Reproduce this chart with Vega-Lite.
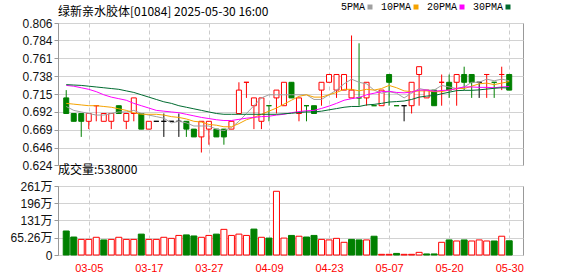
{
  "$schema": "https://vega.github.io/schema/vega-lite/v6.json",
  "background": "white",
  "padding": {"left": 9, "top": 2, "right": 5, "bottom": 2},
  "config": {
    "view": {"stroke": "#999999", "strokeWidth": 1},
    "font": "Liberation Sans",
    "axisY": {"labelFont": "Liberation Sans, Noto Sans CJK SC", "labelFontSize": 12, "labelColor": "#111111", "tickColor": "#999999", "tickSize": 4, "domainColor": "#999999", "gridColor": "#d2d2d2", "labelPadding": 2, "labelOverlap": false, "labelFlush": false},
    "legend": {
      "orient": "none", "legendX": 307, "legendY": -21, "direction": "horizontal",
      "symbolType": "square", "symbolSize": 25, "symbolStrokeWidth": 0,
      "labelFont": "Liberation Mono", "labelFontSize": 10, "labelColor": "#000000",
      "labelAlign": "right", "labelOffset": -10, "columnPadding": 7
    }
  },
  "datasets": {
    "k": [
      {"i":0,"d":"02-28","o":0.71,"h":0.72,"l":0.69,"c":0.69,"k":"down","vd":"down","v":90.8,"m5":0.699,"m10":0.703,"m20":0.726,"m30":0.727},
      {"i":1,"d":"03-03","o":0.69,"h":0.69,"l":0.68,"c":0.68,"k":"down","vd":"down","v":68,"m5":0.694,"m10":0.702,"m20":0.725,"m30":0.7265},
      {"i":2,"d":"03-04","o":0.69,"h":0.69,"l":0.66,"c":0.68,"k":"down","vd":"up","v":59,"m5":0.692,"m10":0.701,"m20":0.723,"m30":0.726},
      {"i":3,"d":"03-05","o":0.68,"h":0.69,"l":0.67,"c":0.69,"k":"up","vd":"up","v":59,"m5":0.690,"m10":0.700,"m20":0.721,"m30":0.725},
      {"i":4,"d":"03-06","o":0.70,"h":0.70,"l":0.68,"c":0.70,"k":"up","vd":"up","v":67,"m5":0.688,"m10":0.700,"m20":0.718,"m30":0.724},
      {"i":5,"d":"03-07","o":0.68,"h":0.69,"l":0.68,"c":0.69,"k":"up","vd":"down","v":57,"m5":0.688,"m10":0.699,"m20":0.714,"m30":0.723},
      {"i":6,"d":"03-10","o":0.68,"h":0.69,"l":0.67,"c":0.69,"k":"up","vd":"up","v":59,"m5":0.690,"m10":0.698,"m20":0.711,"m30":0.722},
      {"i":7,"d":"03-11","o":0.70,"h":0.70,"l":0.69,"c":0.69,"k":"down","vd":"up","v":67,"m5":0.692,"m10":0.696,"m20":0.709,"m30":0.721},
      {"i":8,"d":"03-12","o":0.68,"h":0.69,"l":0.67,"c":0.69,"k":"up","vd":"up","v":59,"m5":0.692,"m10":0.694,"m20":0.707,"m30":0.719},
      {"i":9,"d":"03-13","o":0.69,"h":0.71,"l":0.68,"c":0.71,"k":"up","vd":"up","v":59,"m5":0.694,"m10":0.691,"m20":0.703,"m30":0.717},
      {"i":10,"d":"03-14","o":0.69,"h":0.69,"l":0.67,"c":0.67,"k":"down","vd":"down","v":79,"m5":0.690,"m10":0.689,"m20":0.700,"m30":0.714},
      {"i":11,"d":"03-17","o":0.67,"h":0.68,"l":0.67,"c":0.68,"k":"up","vd":"up","v":59,"m5":0.688,"m10":0.689,"m20":0.697,"m30":0.711},
      {"i":12,"d":"03-18","o":0.68,"h":0.68,"l":0.68,"c":0.68,"k":"flat","vd":"up","v":59,"m5":0.686,"m10":0.689,"m20":0.694,"m30":0.708},
      {"i":13,"d":"03-19","o":0.68,"h":0.69,"l":0.66,"c":0.68,"k":"flat","vd":"up","v":67,"m5":0.684,"m10":0.688,"m20":0.693,"m30":0.705},
      {"i":14,"d":"03-20","o":0.68,"h":0.68,"l":0.68,"c":0.68,"k":"flat","vd":"up","v":63,"m5":0.678,"m10":0.686,"m20":0.692,"m30":0.703},
      {"i":15,"d":"03-21","o":0.68,"h":0.69,"l":0.66,"c":0.68,"k":"flat","vd":"up","v":74,"m5":0.680,"m10":0.685,"m20":0.691,"m30":0.700},
      {"i":16,"d":"03-24","o":0.68,"h":0.68,"l":0.66,"c":0.67,"k":"down","vd":"down","v":76,"m5":0.678,"m10":0.683,"m20":0.689,"m30":0.698},
      {"i":17,"d":"03-25","o":0.67,"h":0.67,"l":0.66,"c":0.66,"k":"down","vd":"down","v":72,"m5":0.674,"m10":0.680,"m20":0.687,"m30":0.696},
      {"i":18,"d":"03-26","o":0.66,"h":0.68,"l":0.64,"c":0.68,"k":"up","vd":"up","v":67,"m5":0.674,"m10":0.679,"m20":0.685,"m30":0.694},
      {"i":19,"d":"03-27","o":0.67,"h":0.68,"l":0.65,"c":0.68,"k":"up","vd":"up","v":74,"m5":0.674,"m10":0.676,"m20":0.6835,"m30":0.692},
      {"i":20,"d":"03-28","o":0.67,"h":0.67,"l":0.66,"c":0.66,"k":"down","vd":"down","v":79,"m5":0.670,"m10":0.675,"m20":0.682,"m30":0.690},
      {"i":21,"d":"03-31","o":0.67,"h":0.67,"l":0.65,"c":0.66,"k":"down","vd":"up","v":97,"m5":0.668,"m10":0.673,"m20":0.681,"m30":0.689},
      {"i":22,"d":"04-01","o":0.67,"h":0.68,"l":0.67,"c":0.68,"k":"up","vd":"up","v":74,"m5":0.672,"m10":0.673,"m20":0.681,"m30":0.689},
      {"i":23,"d":"04-02","o":0.69,"h":0.73,"l":0.69,"c":0.72,"k":"up","vd":"up","v":79,"m5":0.680,"m10":0.677,"m20":0.6825,"m30":0.689},
      {"i":24,"d":"04-03","o":0.73,"h":0.73,"l":0.71,"c":0.73,"k":"up","vd":"up","v":74,"m5":0.690,"m10":0.682,"m20":0.684,"m30":0.689},
      {"i":25,"d":"04-07","o":0.70,"h":0.71,"l":0.67,"c":0.71,"k":"up","vd":"down","v":98,"m5":0.700,"m10":0.685,"m20":0.685,"m30":0.689},
      {"i":26,"d":"04-08","o":0.68,"h":0.71,"l":0.67,"c":0.71,"k":"up","vd":"up","v":67,"m5":0.710,"m10":0.689,"m20":0.686,"m30":0.689},
      {"i":27,"d":"04-09","o":0.70,"h":0.70,"l":0.68,"c":0.70,"k":"down","vd":"down","v":64,"m5":0.714,"m10":0.693,"m20":0.6865,"m30":0.689},
      {"i":28,"d":"04-10","o":0.71,"h":0.72,"l":0.69,"c":0.72,"k":"up","vd":"up","v":241,"m5":0.714,"m10":0.697,"m20":0.688,"m30":0.689},
      {"i":29,"d":"04-11","o":0.70,"h":0.73,"l":0.70,"c":0.73,"k":"up","vd":"up","v":64,"m5":0.714,"m10":0.702,"m20":0.689,"m30":0.6897},
      {"i":30,"d":"04-14","o":0.73,"h":0.73,"l":0.71,"c":0.71,"k":"down","vd":"down","v":74,"m5":0.714,"m10":0.707,"m20":0.691,"m30":0.6903},
      {"i":31,"d":"04-15","o":0.69,"h":0.71,"l":0.68,"c":0.71,"k":"up","vd":"up","v":71,"m5":0.714,"m10":0.712,"m20":0.6925,"m30":0.6913},
      {"i":32,"d":"04-16","o":0.70,"h":0.70,"l":0.68,"c":0.70,"k":"down","vd":"down","v":68,"m5":0.714,"m10":0.714,"m20":0.6935,"m30":0.692},
      {"i":33,"d":"04-17","o":0.70,"h":0.70,"l":0.69,"c":0.69,"k":"down","vd":"down","v":74,"m5":0.708,"m10":0.711,"m20":0.694,"m30":0.692},
      {"i":34,"d":"04-22","o":0.72,"h":0.73,"l":0.70,"c":0.73,"k":"up","vd":"up","v":59,"m5":0.708,"m10":0.711,"m20":0.6965,"m30":0.693},
      {"i":35,"d":"04-23","o":0.73,"h":0.74,"l":0.73,"c":0.74,"k":"up","vd":"up","v":57,"m5":0.714,"m10":0.714,"m20":0.6995,"m30":0.6947},
      {"i":36,"d":"04-24","o":0.72,"h":0.74,"l":0.71,"c":0.74,"k":"up","vd":"up","v":63,"m5":0.720,"m10":0.717,"m20":0.703,"m30":0.6963},
      {"i":37,"d":"04-25","o":0.72,"h":0.74,"l":0.72,"c":0.74,"k":"up","vd":"up","v":48,"m5":0.728,"m10":0.721,"m20":0.707,"m30":0.698},
      {"i":38,"d":"04-28","o":0.71,"h":0.79,"l":0.71,"c":0.72,"k":"up","vd":"down","v":59,"m5":0.734,"m10":0.721,"m20":0.709,"m30":0.699},
      {"i":39,"d":"04-29","o":0.71,"h":0.78,"l":0.70,"c":0.71,"k":"down","vd":"down","v":57,"m5":0.730,"m10":0.719,"m20":0.7105,"m30":0.699},
      {"i":40,"d":"04-30","o":0.71,"h":0.73,"l":0.70,"c":0.73,"k":"up","vd":"up","v":57,"m5":0.728,"m10":0.721,"m20":0.714,"m30":0.701},
      {"i":41,"d":"05-02","o":0.70,"h":0.70,"l":0.70,"c":0.70,"k":"down","vd":"down","v":71,"m5":0.720,"m10":0.720,"m20":0.716,"m30":0.7017},
      {"i":42,"d":"05-06","o":0.70,"h":0.72,"l":0.70,"c":0.72,"k":"up","vd":"up","v":2.5,"m5":0.716,"m10":0.722,"m20":0.718,"m30":0.703},
      {"i":43,"d":"05-07","o":0.74,"h":0.74,"l":0.70,"c":0.73,"k":"down","vd":"up","v":2.5,"m5":0.718,"m10":0.726,"m20":0.7185,"m30":0.7047},
      {"i":44,"d":"05-08","o":0.70,"h":0.70,"l":0.70,"c":0.70,"k":"down","vd":"down","v":6,"m5":0.716,"m10":0.723,"m20":0.717,"m30":0.7053},
      {"i":45,"d":"05-09","o":0.70,"h":0.70,"l":0.68,"c":0.70,"k":"flat","vd":"up","v":2.5,"m5":0.710,"m10":0.719,"m20":0.7165,"m30":0.706},
      {"i":46,"d":"05-12","o":0.70,"h":0.73,"l":0.69,"c":0.73,"k":"up","vd":"up","v":2.5,"m5":0.716,"m10":0.718,"m20":0.7175,"m30":0.708},
      {"i":47,"d":"05-13","o":0.74,"h":0.75,"l":0.70,"c":0.75,"k":"up","vd":"up","v":10,"m5":0.722,"m10":0.719,"m20":0.720,"m30":0.711},
      {"i":48,"d":"05-14","o":0.71,"h":0.72,"l":0.71,"c":0.72,"k":"up","vd":"down","v":4,"m5":0.720,"m10":0.719,"m20":0.720,"m30":0.7123},
      {"i":49,"d":"05-15","o":0.72,"h":0.72,"l":0.70,"c":0.70,"k":"down","vd":"down","v":4,"m5":0.720,"m10":0.718,"m20":0.7185,"m30":0.713},
      {"i":50,"d":"05-16","o":0.73,"h":0.74,"l":0.70,"c":0.73,"k":"up","vd":"up","v":48,"m5":0.726,"m10":0.718,"m20":0.7195,"m30":0.7153},
      {"i":51,"d":"05-20","o":0.73,"h":0.74,"l":0.71,"c":0.72,"k":"down","vd":"down","v":57,"m5":0.724,"m10":0.720,"m20":0.720,"m30":0.7173},
      {"i":52,"d":"05-21","o":0.73,"h":0.74,"l":0.70,"c":0.74,"k":"up","vd":"up","v":53,"m5":0.722,"m10":0.722,"m20":0.722,"m30":0.7193},
      {"i":53,"d":"05-22","o":0.74,"h":0.75,"l":0.72,"c":0.73,"k":"down","vd":"down","v":57,"m5":0.724,"m10":0.722,"m20":0.724,"m30":0.7197},
      {"i":54,"d":"05-23","o":0.74,"h":0.74,"l":0.71,"c":0.73,"k":"down","vd":"up","v":53,"m5":0.730,"m10":0.725,"m20":0.724,"m30":0.7197},
      {"i":55,"d":"05-26","o":0.73,"h":0.73,"l":0.71,"c":0.73,"k":"flat","vd":"up","v":57,"m5":0.730,"m10":0.728,"m20":0.7235,"m30":0.7203},
      {"i":56,"d":"05-27","o":0.74,"h":0.74,"l":0.71,"c":0.74,"k":"up","vd":"up","v":53,"m5":0.734,"m10":0.729,"m20":0.7235,"m30":0.7213},
      {"i":57,"d":"05-28","o":0.73,"h":0.73,"l":0.71,"c":0.73,"k":"down","vd":"down","v":53,"m5":0.732,"m10":0.727,"m20":0.723,"m30":0.7223},
      {"i":58,"d":"05-29","o":0.74,"h":0.75,"l":0.72,"c":0.74,"k":"up","vd":"up","v":71,"m5":0.734,"m10":0.729,"m20":0.724,"m30":0.723},
      {"i":59,"d":"05-30","o":0.74,"h":0.74,"l":0.72,"c":0.72,"k":"down","vd":"down","v":53.8,"m5":0.732,"m10":0.731,"m20":0.7245,"m30":0.7227}
    ]
  },
  "bounds": "flush",
  "spacing": 21,
  "vconcat": [
    {
      "width": 465,
      "height": 142,
      "data": {"name": "k"},
      "title": {"text": "绿新亲水胶体[01084] 2025-05-30 16:00", "anchor": "start", "frame": "group", "font": "Noto Sans CJK SC", "fontSize": 12, "fontWeight": "normal", "color": "#000000", "offset": -2},
      "resolve": {"axis": {"y": "independent"}},
      "encoding": {
        "x": {"field": "i", "type": "quantitative", "scale": {"domain": [-0.43, 60.17], "nice": false, "zero": false},
              "axis": {"values": [3, 11, 19, 27, 35, 43, 51, 59], "labels": false, "ticks": false, "domain": false, "grid": true, "gridDash": [4, 3], "gridColor": "#cccccc", "title": null}}
      },
      "layer": [
        {
          "mark": {"type": "rule", "strokeWidth": 1},
          "encoding": {
            "y": {"field": "l", "type": "quantitative", "scale": {"domain": [0.624, 0.806], "nice": false, "zero": false},
                  "axis": {"values": [0.624, 0.646, 0.669, 0.692, 0.715, 0.738, 0.761, 0.784, 0.806], "format": ".3f", "title": null, "grid": true, "labelOverlap": false}},
            "y2": {"field": "h"},
            "stroke": {"condition": [{"test": "datum.k === 'up'", "value": "#ff0000"}, {"test": "datum.k === 'down'", "value": "#008000"}], "value": "#000000"}
          }
        },
        {
          "mark": {"type": "bar", "width": 5, "strokeWidth": 1},
          "encoding": {
            "y": {"field": "o", "type": "quantitative", "axis": null},
            "y2": {"field": "c"},
            "fill": {"condition": [{"test": "datum.k === 'up'", "value": "#ffffff"}, {"test": "datum.k === 'down'", "value": "#008000"}], "value": "#000000"},
            "stroke": {"condition": [{"test": "datum.k === 'up'", "value": "#ff0000"}, {"test": "datum.k === 'down'", "value": "#008000"}], "value": "#000000"}
          }
        },
        {
          "mark": {"type": "line", "strokeWidth": 1},
          "encoding": {
            "y": {"field": "m5", "type": "quantitative", "axis": null},
            "color": {"datum": "5PMA", "type": "nominal",
                      "scale": {"domain": ["5PMA", "10PMA", "20PMA", "30PMA"], "range": ["#a0a0a0", "#f5a300", "#ff00ff", "#006b30"]},
                      "legend": {"title": null,
                                 "encode": {"symbols": {"update": {"fill": {"scale": "color", "field": "value"}, "fillOpacity": {"value": 1}, "strokeWidth": {"value": 0}}}}}}
          }
        },
        {
          "mark": {"type": "line", "strokeWidth": 1},
          "encoding": {
            "y": {"field": "m10", "type": "quantitative", "axis": null},
            "color": {"datum": "10PMA", "type": "nominal"}
          }
        },
        {
          "mark": {"type": "line", "strokeWidth": 1},
          "encoding": {
            "y": {"field": "m20", "type": "quantitative", "axis": null},
            "color": {"datum": "20PMA", "type": "nominal"}
          }
        },
        {
          "mark": {"type": "line", "strokeWidth": 1},
          "encoding": {
            "y": {"field": "m30", "type": "quantitative", "axis": null},
            "color": {"datum": "30PMA", "type": "nominal"}
          }
        }
      ]
    },
    {
      "width": 465,
      "height": 69,
      "data": {"name": "k"},
      "title": {"text": "成交量:538000", "anchor": "start", "frame": "group", "font": "Noto Sans CJK SC", "fontSize": 12, "fontWeight": "normal", "color": "#000000", "offset": 3},
      "mark": {"type": "bar", "width": 6, "strokeWidth": 1},
      "encoding": {
        "x": {"field": "i", "type": "quantitative", "scale": {"domain": [-0.43, 60.17], "nice": false, "zero": false},
              "axis": {"values": [3, 11, 19, 27, 35, 43, 51, 59], "ticks": false, "domain": false, "grid": true, "gridDash": [4, 3], "gridColor": "#cccccc", "title": null,
                       "labelColor": "#ff0000", "labelFont": "Liberation Sans", "labelFontSize": 11, "labelPadding": 7,
                       "labelExpr": "['03-05','03-17','03-27','04-09','04-23','05-07','05-20','05-30'][(datum.value - 3) / 8]"}},
        "y": {"field": "v", "type": "quantitative", "scale": {"domain": [0, 261], "nice": false},
              "axis": {"values": [0, 65.26, 131, 196, 261], "format": ".2~f", "labelExpr": "datum.value == 0 ? '0' : datum.label + '万'", "title": null, "grid": true}},
        "fill": {"condition": {"test": "datum.vd === 'up'", "value": "#ffffff"}, "value": "#008000"},
        "stroke": {"condition": {"test": "datum.vd === 'up'", "value": "#ff0000"}, "value": "#008000"}
      }
    }
  ]
}
